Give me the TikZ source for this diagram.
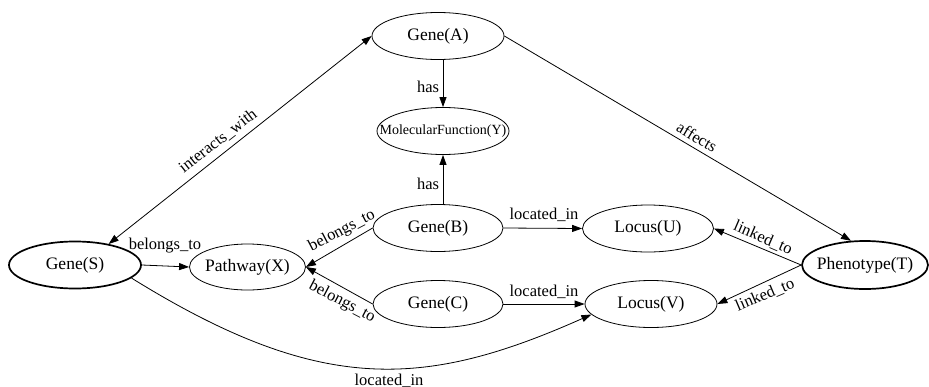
\documentclass[tikz,border=0pt]{standalone}
\usepackage{fontspec}
\setmainfont{Liberation Serif}
\usetikzlibrary{shapes.geometric,arrows.meta}
\newcommand{\nt}[1]{\makebox[0pt]{#1}}
\begin{document}
\begin{tikzpicture}[x=1pt,y=-1pt,
  nd/.style={ellipse,draw,line width=0.8pt,minimum width=132pt,minimum height=47pt,inner sep=0pt,font=\fontsize{17.5}{20}\selectfont},
  bold/.style={line width=1.7pt},
  lab/.style={font=\fontsize{16.5}{19}\selectfont,inner sep=0pt},
  ar/.style={line width=0.8pt,-{Triangle[length=10pt,width=7pt]}},
  ar2/.style={line width=0.8pt,{Triangle[length=10pt,width=7pt]}-{Triangle[length=10pt,width=7pt]}},
]
\useasboundingbox (0,0) rectangle (929,386);
% nodes
\node[nd,bold] (S) at (75,265) {\nt{Gene(S)}};
\node[nd,minimum width=116pt,minimum height=46pt] (X) at (247.5,267) {\nt{Pathway(X)}};
\node[nd] (A) at (438,36) {\nt{Gene(A)}};
\node[nd,font=\fontsize{14}{16}\selectfont] (Y) at (443,131) {\nt{MolecularFunction(Y)}};
\node[nd,minimum width=130pt] (B) at (438,228) {\nt{Gene(B)}};
\node[nd,minimum width=130pt] (C) at (438,304) {\nt{Gene(C)}};
\node[nd,minimum width=131pt] (U) at (648,228.5) {\nt{Locus(U)}};
\node[nd] (V) at (651,304) {\nt{Locus(V)}};
\node[nd,bold,minimum width=126pt,minimum height=48pt] (T) at (865,265) {\nt{Phenotype(T)}};
% edges
\draw[ar2] (S.32) -- (A.west);
\draw[ar] (A.east) -- (T.120);
\draw[ar] (Y |- A.south) -- (Y.north);
\draw[ar] (Y |- B.north) -- (Y.south);
\draw[ar] (S.east) -- (X.west);
\draw[ar] (B.west) -- (X.east);
\draw[ar] (C.west) -- (X.east);
\draw[ar] (B.east) -- (U.west);
\draw[ar] (C.east) -- (V.west);
\draw[ar] (T.west) -- (U.east);
\draw[ar] (T.west) -- (V.east);
\draw[ar] (S.-13) .. controls (320,395) and (424,389) .. (V.190);
% labels
\node[lab,rotate=37.8] (l1) at (218,141) {interacts\_with};
\node[lab,rotate=-30.3] (l2) at (697,137) {affects};
\node[lab] (l3) at (428,87) {has};
\node[lab] (l4) at (428,184) {has};
\node[lab] (l5) at (165,246) {belongs\_to};
\node[lab,rotate=27.6] (l6) at (342,231) {belongs\_to};
\node[lab,rotate=-27.6] (l7) at (342,302) {belongs\_to};
\node[lab] (l8) at (544,215) {located\_in};
\node[lab] (l9) at (544,292) {located\_in};
\node[lab,rotate=-23.4] (l10) at (763,238) {linked\_to};
\node[lab,rotate=23] (l11) at (765,295) {linked\_to};
\node[lab,anchor=base] (l12) at (389,385) {located\_in};
\end{tikzpicture}
\end{document}
